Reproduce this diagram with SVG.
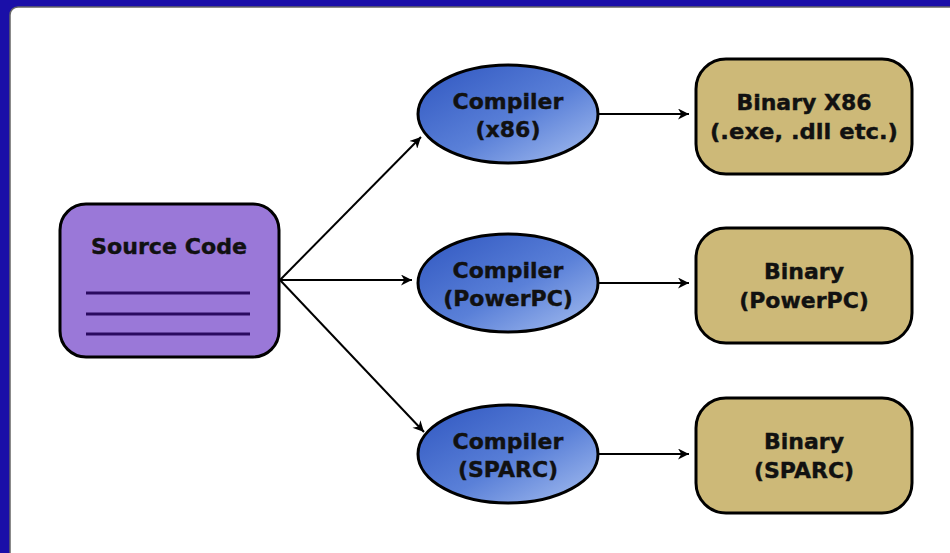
<svg xmlns="http://www.w3.org/2000/svg" width="950" height="553" viewBox="0 0 950 553">
<defs>
<linearGradient id="blueG" x1="0" y1="0" x2="1" y2="1">
<stop offset="0" stop-color="#2f56c0"/>
<stop offset="0.55" stop-color="#5a80d8"/>
<stop offset="1" stop-color="#a8c0f0"/>
</linearGradient>
<marker id="arr" viewBox="0 0 10 10" refX="10" refY="5" markerWidth="13" markerHeight="11" markerUnits="userSpaceOnUse" orient="auto">
<path d="M0,0 L10,5 L0,10 L3,5 Z" fill="#000"/>
</marker>
<style>
.t{font-family:"DejaVu Sans","Liberation Sans",sans-serif;font-weight:bold;font-size:22px;fill:#111;stroke:#111;stroke-width:0.4;text-anchor:middle}
.ell{fill:url(#blueG);stroke:#000;stroke-width:3}
.bin{fill:#cdb978;stroke:#000;stroke-width:3}
.edge{stroke:#000;stroke-width:2;fill:none;marker-end:url(#arr)}
</style>
</defs>
<rect x="0" y="0" width="950" height="553" fill="#1a0fa8"/>
<rect x="10" y="7" width="960" height="570" rx="8" fill="#fff" stroke="#666" stroke-width="1.5"/>
<g id="connectors">
<path class="edge" d="M280,280 L421,137"/>
<path class="edge" d="M280,280 L412,280"/>
<path class="edge" d="M280,280 L424,432"/>
<path class="edge" d="M598,114 L689,114"/>
<path class="edge" d="M598,283 L689,283"/>
<path class="edge" d="M598,454 L689,454"/>
</g>
<g id="source">
<rect x="60" y="204" width="219" height="153" rx="26" fill="#9a78d8" stroke="#000" stroke-width="3"/>
<text class="t" x="169" y="254" textLength="156" lengthAdjust="spacingAndGlyphs">Source Code</text>
<path d="M86,293 H250 M86,314 H250 M86,334 H250" stroke="#2a0a60" stroke-width="3"/>
</g>
<g id="comp-x86">
<ellipse class="ell" cx="508" cy="114" rx="90" ry="49"/>
<text class="t" x="508" y="109">Compiler</text>
<text class="t" x="508" y="137">(x86)</text>
</g>
<g id="comp-ppc">
<ellipse class="ell" cx="508" cy="283" rx="90" ry="49"/>
<text class="t" x="508" y="278">Compiler</text>
<text class="t" x="508" y="306">(PowerPC)</text>
</g>
<g id="comp-sparc">
<ellipse class="ell" cx="508" cy="454" rx="90" ry="49"/>
<text class="t" x="508" y="449">Compiler</text>
<text class="t" x="508" y="477">(SPARC)</text>
</g>
<g id="bin-x86">
<rect class="bin" x="696" y="59" width="216" height="115" rx="30"/>
<text class="t" x="804" y="110">Binary X86</text>
<text class="t" x="804" y="139" textLength="188" lengthAdjust="spacingAndGlyphs">(.exe, .dll etc.)</text>
</g>
<g id="bin-ppc">
<rect class="bin" x="696" y="228" width="216" height="115" rx="30"/>
<text class="t" x="804" y="279">Binary</text>
<text class="t" x="804" y="308">(PowerPC)</text>
</g>
<g id="bin-sparc">
<rect class="bin" x="696" y="398" width="216" height="115" rx="30"/>
<text class="t" x="804" y="449">Binary</text>
<text class="t" x="804" y="478">(SPARC)</text>
</g>
</svg>
